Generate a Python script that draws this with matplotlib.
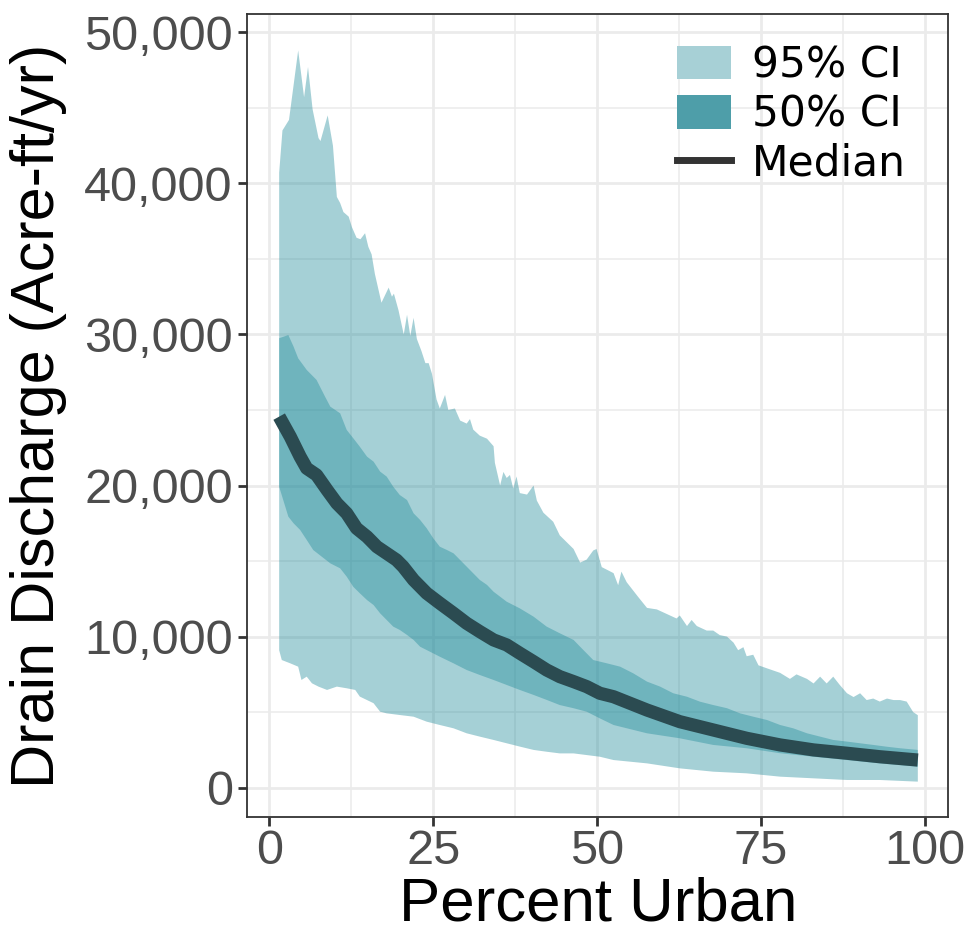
import numpy as np
import matplotlib
matplotlib.use("Agg")
import matplotlib.pyplot as plt
from matplotlib.patches import Patch
from matplotlib.lines import Line2D

# upper / lower edges of the 95% interval
x_hi95 = [1.5, 2.0, 3.0, 4.4, 5.3, 5.9, 6.6, 7.5, 7.8, 8.9, 9.7, 10.3, 10.8, 11.3, 12.1,
          12.6, 13.3, 13.9, 14.6, 15.1, 15.6, 16.1, 17.1, 18.2, 18.7, 19.0, 19.7, 20.5,
          21.0, 21.5, 22.0, 22.5, 23.2, 23.8, 24.3, 24.8, 25.5, 26.0, 26.8, 27.3, 28.3,
          29.1, 30.1, 30.6, 31.1, 32.1, 33.2, 34.2, 34.4, 35.2, 35.7, 36.2, 36.7, 37.2,
          37.7, 38.2, 39.3, 40.3, 40.8, 41.8, 43.3, 44.3, 46.4, 47.4, 48.4, 49.4, 49.9,
          50.7, 52.5, 53.2, 53.7, 54.5, 56.3, 57.6, 59.1, 60.6, 62.1, 62.6, 63.7, 64.4,
          65.2, 66.7, 67.7, 68.7, 69.8, 70.8, 71.5, 72.3, 72.8, 73.8, 74.6, 75.9, 77.9,
          79.4, 80.4, 82.0, 83.0, 84.0, 85.0, 86.0, 87.0, 88.1, 89.1, 90.1, 91.1, 92.1,
          93.1, 94.2, 95.2, 96.2, 97.2, 98.2, 98.9]
hi95 = [40700, 43500, 44200, 48800, 45700, 47700, 44900, 43000, 42800, 44500, 42500, 39100,
        38700, 38100, 37800, 37100, 36400, 36300, 36700, 35800, 35300, 34000, 32100, 33100,
        32500, 32700, 31600, 30000, 31300, 29900, 31100, 29700, 28900, 28100, 28100, 27400,
        25700, 25100, 26000, 25000, 25100, 24300, 24100, 24400, 23700, 23300, 23100, 22600,
        21500, 20000, 20900, 20500, 20700, 19800, 20600, 19500, 19400, 20000, 19000, 18200,
        17600, 16700, 15800, 14900, 15100, 15700, 15800, 14600, 14200, 13400, 14300, 13600,
        12600, 11900, 11800, 11500, 11200, 11400, 10700, 11100, 10700, 10400, 10400, 10100,
        10000, 9600, 9100, 9300, 8700, 8800, 8100, 7900, 7600, 7200, 7500, 7200, 6900, 7350,
        6900, 7350, 6800, 6250, 6000, 6250, 5800, 5900, 5700, 5900, 5800, 5800, 5700, 5000,
        4800]

x_lo95 = [1.5, 1.9, 3.2, 4.4, 4.9, 5.7, 6.5, 7.5, 8.8, 10.3, 11.8, 13.1, 13.8, 14.9, 15.9,
          16.9, 17.9, 19.9, 22.0, 24.0, 26.0, 28.1, 30.1, 32.1, 34.2, 36.2, 38.2, 40.3,
          42.3, 44.3, 46.4, 48.4, 50.4, 52.5, 57.6, 62.6, 67.7, 72.8, 77.9, 83.0, 88.1,
          93.1, 98.9]
lo95 = [9100, 8450, 8230, 8010, 7130, 7350, 6910, 6690, 6470, 6690, 6580, 6470, 6030, 5800,
        5590, 5030, 4920, 4810, 4700, 4370, 4150, 3930, 3600, 3380, 3160, 2940, 2720, 2500,
        2380, 2270, 2270, 2160, 2050, 1830, 1610, 1280, 1060, 950, 730, 620, 510, 510, 400]

# upper / lower edges of the 50% interval
x_hi50 = [1.5, 2.9, 3.7, 4.4, 5.7, 7.2, 8.5, 9.3, 10.8, 11.8, 12.8, 13.8, 14.9, 15.9, 16.9,
          17.9, 18.9, 19.9, 21.0, 22.0, 23.0, 24.0, 25.0, 26.0, 27.1, 28.1, 29.1, 30.1,
          31.1, 32.1, 33.2, 34.2, 35.2, 36.2, 38.2, 40.3, 42.3, 44.3, 46.4, 47.4, 49.4,
          51.5, 53.5, 55.5, 57.6, 59.6, 61.6, 63.7, 65.7, 67.7, 69.8, 71.8, 73.8, 75.9,
          77.9, 79.9, 82.0, 84.0, 86.0, 88.1, 90.1, 92.1, 94.2, 96.2, 98.9]
hi50 = [29750, 29960, 29190, 28420, 27650, 26990, 25880, 25220, 24780, 23680, 23130, 22570,
        21910, 21580, 20920, 20590, 19920, 19370, 19040, 18160, 17720, 17170, 16510, 15950,
        15730, 15510, 15070, 14630, 14190, 13750, 13420, 12970, 12640, 12310, 11870, 11320,
        10660, 10220, 9780, 9330, 8450, 8230, 8010, 7570, 7020, 6690, 6250, 6020, 5690, 5470,
        5260, 4920, 4700, 4480, 4150, 3930, 3600, 3380, 3160, 3050, 2940, 2830, 2710, 2610,
        2500]

x_lo50 = [1.5, 2.9, 3.7, 4.7, 5.7, 6.7, 8.0, 9.3, 10.8, 11.8, 12.8, 13.8, 14.9, 15.9, 16.9,
          17.9, 18.9, 19.9, 21.0, 22.0, 23.0, 24.0, 26.0, 28.1, 30.1, 32.1, 34.2, 36.2,
          38.2, 40.3, 42.3, 44.3, 46.4, 48.4, 50.4, 52.5, 57.6, 62.6, 67.7, 72.8, 77.9,
          83.0, 88.1, 93.1, 98.9]
lo50 = [19920, 17940, 17500, 17060, 16400, 15730, 15290, 14850, 14520, 13970, 13300, 12870,
        12420, 12090, 11540, 11100, 10660, 10440, 10110, 9780, 9330, 9110, 8670, 8230, 7790,
        7460, 7130, 6800, 6470, 6140, 5810, 5470, 5260, 5030, 4590, 4150, 3600, 3270, 2830,
        2610, 2280, 2050, 1830, 1610, 1390]

# median curve
x_med = [1.5, 3.2, 4.7, 5.7, 7.2, 8.8, 10.3, 11.8, 13.3, 14.9, 16.4, 17.9, 19.4, 20.4, 22.0,
         24.0, 26.0, 28.1, 30.1, 32.1, 34.2, 36.2, 38.2, 40.3, 42.3, 44.3, 46.4, 48.4, 50.4,
         52.5, 57.6, 62.6, 67.7, 72.8, 77.9, 83.0, 88.1, 93.1, 98.9]
median = [24560, 23230, 21910, 21140, 20700, 19710, 18820, 18160, 17170, 16610, 15950, 15510,
          15070, 14630, 13750, 12870, 12210, 11540, 10880, 10330, 9780, 9450, 8900, 8340,
          7790, 7350, 7020, 6690, 6250, 6020, 5140, 4370, 3820, 3270, 2830, 2500, 2280, 2050,
          1830]

xticks = [0, 25, 50, 75, 100]
yticks = [0, 10000, 20000, 30000, 40000, 50000]
ytick_labels = ["0", "10,000", "20,000", "30,000", "40,000", "50,000"]
legend_labels = ["95% CI", "50% CI", "Median"]

band_color = "#1f8a99"

fig = plt.figure(figsize=(9.66, 9.36), dpi=100)
ax = fig.add_axes([247.3 / 966, 1 - 817 / 936, 701 / 966, 803 / 936])

ax.fill(np.r_[x_hi95, x_lo95[::-1]], np.r_[hi95, lo95[::-1]],
        color=band_color, alpha=0.4, lw=0, zorder=2)
ax.fill(np.r_[x_hi50, x_lo50[::-1]], np.r_[hi50, lo50[::-1]],
        color=band_color, alpha=0.4, lw=0, zorder=3)
ax.plot(x_med, median, color="#2b4b51", lw=9.5, solid_capstyle="butt",
        solid_joinstyle="round", zorder=4)

ax.set_xlim(-3.36, 103.55)
ax.set_ylim(-1940, 51210)
ax.set_xticks(xticks)
ax.set_xticks([12.5, 37.5, 62.5, 87.5], minor=True)
ax.set_yticks(yticks)
ax.set_yticklabels(ytick_labels)
ax.set_yticks(np.arange(5000, 50000, 10000), minor=True)

ax.grid(which="major", color="#ebebeb", lw=2.0, zorder=0)
ax.grid(which="minor", color="#ebebeb", lw=1.1, zorder=0)
ax.set_axisbelow(True)

for s in ax.spines.values():
    s.set_color("#333333")
    s.set_linewidth(1.3)

ax.tick_params(which="major", length=6.5, width=2, color="#333333",
               labelsize=35, labelcolor="#4d4d4d")
ax.tick_params(which="minor", length=0)
ax.tick_params(axis="x", pad=2)
ax.tick_params(axis="y", pad=4)
for lab in ax.get_xticklabels() + ax.get_yticklabels():
    lab.set_family("Liberation Sans")

ax.set_xlabel("Percent Urban", fontsize=44.5, family="Liberation Sans", labelpad=2)
ax.set_ylabel("Drain Discharge (Acre-ft/yr)", fontsize=44, family="Liberation Sans",
              labelpad=12)

handles = [Patch(facecolor="#a7d0d6", edgecolor="none"),
           Patch(facecolor="#4e9ea9", edgecolor="none"),
           Line2D([], [], color="#333333", lw=5)]
leg = ax.legend(handles, legend_labels, loc="upper right", frameon=False,
                prop={"family": "DejaVu Sans", "size": 30.5},
                handlelength=1.27, handleheight=0.83, handletextpad=0.5,
                labelspacing=0.17, borderaxespad=0, borderpad=0,
                bbox_to_anchor=(0.94, 0.962))

fig.savefig("out.png", dpi=100)
